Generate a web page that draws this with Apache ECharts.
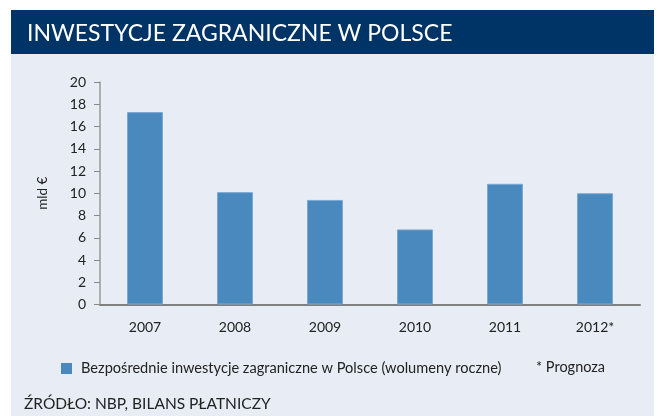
<!DOCTYPE html>
<html>
<head>
<meta charset="utf-8">
<script src="https://cdn.jsdelivr.net/npm/echarts@6/dist/echarts.min.js"></script>
<style>
  html, body { margin: 0; padding: 0; background: #fff; }
  #chart { width: 667px; height: 416px; }
</style>
</head>
<body>
<div id="chart"></div>
<script>
// dane z wykresu
const years = ['2007', '2008', '2009', '2010', '2011', '2012*'];
const fdiValues = [17.3, 10.1, 9.4, 6.75, 10.85, 10.0];
const yTicks = { min: 0, max: 20, interval: 2 };
const seriesName = 'Bezpośrednie inwestycje zagraniczne w Polsce (wolumeny roczne)';

const font = 'Lato';

const option = {
  animation: false,
  textStyle: { fontFamily: font },
  graphic: [
    // tło panelu
    { type: 'rect', z: -10, shape: { x: 11, y: 53, width: 643, height: 363 }, style: { fill: '#e8edf5' } },
    // pasek tytułu
    { type: 'rect', z: -10, shape: { x: 11, y: 10, width: 643, height: 44 }, style: { fill: '#003366' } },
    {
      type: 'text', left: 536, top: 360,
      style: { text: '* Prognoza', fill: '#222', font: '14.5px ' + font }
    },
    {
      type: 'text', left: 24, top: 396,
      style: { text: 'ŹRÓDŁO: NBP, BILANS PŁATNICZY', fill: '#222', font: '15.5px ' + font }
    }
  ],
  title: {
    text: 'INWESTYCJE ZAGRANICZNE W POLSCE',
    left: 22,
    top: 17,
    textStyle: { color: '#fff', fontSize: 23, fontWeight: 'normal', fontFamily: font }
  },
  legend: {
    left: 56,
    top: 356,
    itemWidth: 11,
    itemHeight: 11,
    icon: 'rect',
    itemStyle: { borderWidth: 0 },
    textStyle: { fontSize: 14.6, color: '#222', padding: [0, 0, 0, 4] },
    data: [seriesName]
  },
  grid: { left: 100, top: 82, width: 540, height: 222.5, containLabel: false },
  xAxis: {
    type: 'category',
    data: years,
    axisLine: { lineStyle: { color: '#808080', width: 2 } },
    axisTick: { show: false },
    axisLabel: { color: '#222', fontSize: 14, margin: 16 }
  },
  yAxis: {
    type: 'value',
    min: yTicks.min,
    max: yTicks.max,
    interval: yTicks.interval,
    name: 'mld €',
    nameLocation: 'middle',
    nameGap: 50,
    nameRotate: 90,
    nameTextStyle: { color: '#222', fontSize: 13.5 },
    axisLine: { show: true, lineStyle: { color: '#999', width: 1.5 } },
    axisTick: { show: true, length: 6, lineStyle: { color: '#888' } },
    axisLabel: { color: '#222', fontSize: 14, margin: 14 },
    splitLine: { show: false }
  },
  series: [{
    name: seriesName,
    type: 'bar',
    barWidth: 36,
    data: fdiValues,
    itemStyle: { color: '#4a89be', borderColor: '#7aa9d2', borderWidth: 1 }
  }]
};

const chart = echarts.init(document.getElementById('chart'), null, { renderer: 'canvas' });
chart.setOption(option);
</script>
</body>
</html>
